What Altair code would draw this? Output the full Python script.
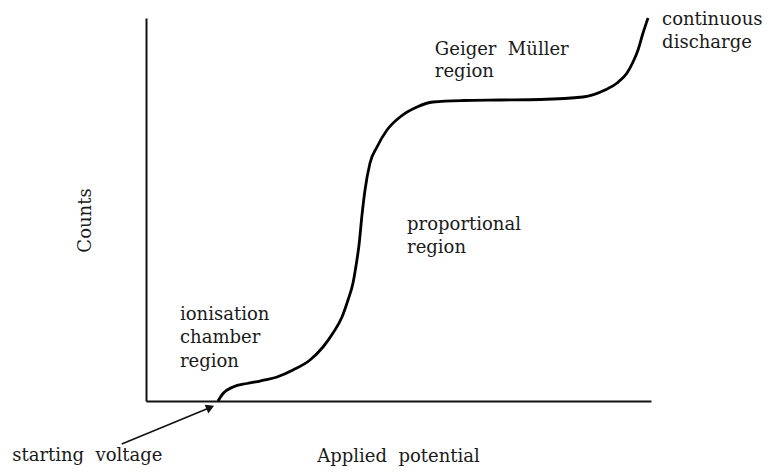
import altair as alt
import pandas as pd

# Characteristic curve (arbitrary units, 0-100 on both axes)
potential = [14.26, 15.25, 17.23, 20.0, 22.57, 25.94, 29.11, 32.48, 35.05, 37.03,
             38.81, 40.0, 40.99, 41.58, 42.18, 42.77, 43.37, 44.36, 45.74, 47.72,
             50.30, 53.66, 56.83, 62.77, 70.10, 78.02, 86.53, 90.89, 93.27, 95.25,
             96.44, 97.43, 98.42, 99.41]
counts = [0.0, 1.96, 3.66, 4.57, 5.22, 6.27, 8.09, 10.70, 14.10, 17.75,
          21.93, 26.37, 30.81, 35.25, 40.73, 48.56, 55.09, 62.14, 66.32, 70.76,
          74.15, 76.76, 78.07, 78.46, 78.59, 78.72, 79.37, 81.20, 83.03, 85.64,
          88.51, 91.64, 96.08, 100.0]

# Region labels (vertically centred)
label_text = ["ionisation", "chamber", "region",
              "Geiger\u00a0 Müller", "region",
              "continuous", "discharge",
              "proportional", "region"]
label_x = [6.73, 6.73, 6.73, 57.2, 57.2, 102.2, 102.2, 51.7, 51.7]
label_y = [22.45, 16.45, 10.18, 91.6, 85.9, 99.5, 93.5, 46.0, 39.9]

# Label below the axis (alphabetic baseline)
start_text = ["starting\u00a0 voltage"]
start_x = [-26.5]
start_y = [-15.67]

# Arrow from "starting voltage" to the start of the curve
arrow_x = [-4.8, 12.48]
arrow_y = [-11.2, -1.83]

curve_df = pd.DataFrame({"potential": potential, "counts": counts})
labels_df = pd.DataFrame({"x": label_x, "y": label_y, "text": label_text})
start_df = pd.DataFrame({"x": start_x, "y": start_y, "text": start_text})
arrow_df = pd.DataFrame({"x": arrow_x, "y": arrow_y, "order": [0, 1]})
tip_df = arrow_df.iloc[[1]]

FONT = "DejaVu Serif"
INK = "#1a1a1a"

xscale = alt.Scale(domain=[0, 100], nice=False, zero=False)
yscale = alt.Scale(domain=[0, 100], nice=False, zero=False)

curve = alt.Chart(curve_df).mark_line(
    color="#000000", strokeWidth=2.8, interpolate="monotone", clip=False
).encode(
    x=alt.X("potential:Q", scale=xscale,
            axis=alt.Axis(title="Applied\u00a0 potential", ticks=False, labels=False, grid=False,
                          domainColor="#111111", domainWidth=2,
                          titleFont=FONT, titleFontSize=18, titleFontWeight="normal",
                          titleColor=INK, titleX=252, titleY=60,
                          titleAlign="center", titleBaseline="alphabetic")),
    y=alt.Y("counts:Q", scale=yscale,
            axis=alt.Axis(title="Counts", ticks=False, labels=False, grid=False,
                          domainColor="#111111", domainWidth=2,
                          titleFont=FONT, titleFontSize=18, titleFontWeight="normal",
                          titleColor=INK, titleX=-61, titleY=202, titleAngle=270,
                          titleAlign="center", titleBaseline="middle")),
)

labels = alt.Chart(labels_df).mark_text(
    font=FONT, fontSize=18, color=INK, align="left", baseline="middle"
).encode(
    x=alt.X("x:Q", scale=xscale),
    y=alt.Y("y:Q", scale=yscale),
    text="text:N",
)

start_label = alt.Chart(start_df).mark_text(
    font=FONT, fontSize=18, color=INK, align="left", baseline="alphabetic"
).encode(
    x=alt.X("x:Q", scale=xscale),
    y=alt.Y("y:Q", scale=yscale),
    text="text:N",
)

arrow_line = alt.Chart(arrow_df).mark_line(color="#111111", strokeWidth=1.6).encode(
    x=alt.X("x:Q", scale=xscale),
    y=alt.Y("y:Q", scale=yscale),
    order="order:Q",
)

arrow_tip = alt.Chart(tip_df).mark_point(
    shape="triangle", filled=True, color="#111111", size=90, angle=67, opacity=1
).encode(
    x=alt.X("x:Q", scale=xscale),
    y=alt.Y("y:Q", scale=yscale),
)

chart = alt.layer(curve, labels, start_label, arrow_line, arrow_tip).properties(
    width=505, height=383,
    autosize=alt.AutoSizeParams(type="none"),
    padding={"left": 138, "top": 10, "right": 112, "bottom": 65},
    background="#ffffff",
).configure_view(stroke=None)

chart.save("out.html", embed_options={"renderer": "svg", "actions": False})
